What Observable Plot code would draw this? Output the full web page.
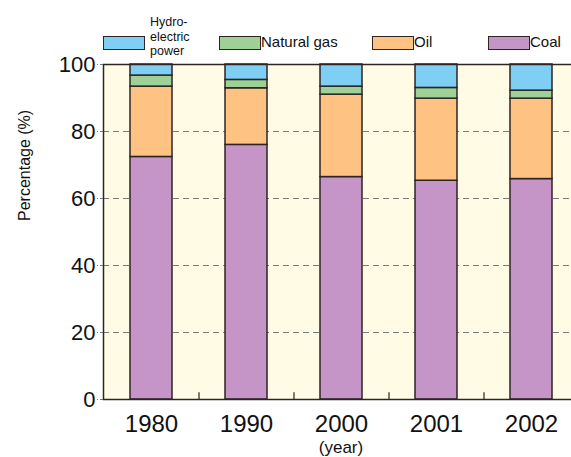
<!DOCTYPE html>
<html>
<head>
<meta charset="utf-8">
<script src="https://cdn.jsdelivr.net/npm/d3@7"></script>
<script src="https://cdn.jsdelivr.net/npm/@observablehq/plot@0.6"></script>
<style>
  html, body { margin: 0; padding: 0; background: #fff; overflow: hidden; }
  #wrap { position: relative; width: 571px; height: 457px; font-family: "Liberation Sans", Arial, Helvetica, sans-serif; }
  #chart { position: absolute; left: 0; top: 0; }
  .sw { position: absolute; top: 36px; width: 40px; height: 12px; border: 1.5px solid #2e2424; }
  .lt { position: absolute; color: #111; white-space: nowrap; }
</style>
</head>
<body>
<div id="wrap">
  <div id="chart"></div>
</div>
<script>
const years = ["1980", "1990", "2000", "2001", "2002"];
const sources = ["Coal", "Oil", "Natural gas", "Hydroelectric power"];
const coal  = [72.4, 76.0, 66.4, 65.3, 65.8];
const oil   = [21.0, 16.9, 24.6, 24.5, 24.0];
const gas   = [3.3, 2.5, 2.4, 3.2, 2.4];
const hydro = [3.3, 4.6, 6.6, 7.0, 7.8];
const colors = ["#c595c8", "#fec383", "#9ed195", "#7fcef3"];
const yTicks = [0, 20, 40, 60, 80, 100];

const series = [coal, oil, gas, hydro];
const rows = [];
years.forEach((yr, i) => {
  sources.forEach((s, j) => rows.push({year: yr, source: s, value: series[j][i]}));
});

const W = 571, H = 457, mL = 103, mR = -7, mT = 64, mB = 58;
const step = (W - mL - mR) / years.length;
const font = "Liberation Sans, Arial, Helvetica, sans-serif";
const dark = "#2e2424";

const chart = Plot.plot({
  width: W, height: H,
  marginLeft: mL, marginRight: mR, marginTop: mT, marginBottom: mB,
  style: {fontFamily: font, color: "#111", background: "transparent", overflow: "visible"},
  x: {type: "band", domain: years, paddingInner: 0.56, paddingOuter: 0.28},
  y: {domain: [0, 100]},
  color: {domain: sources, range: colors},
  marks: [
    Plot.frame({fill: "#fffbe4"}),
    Plot.gridY(yTicks.filter(t => t > 0 && t < 100), {stroke: "#7a7a7a", strokeOpacity: 1, strokeDasharray: "6,4"}),
    Plot.barY(rows, {x: "year", y: "value", fill: "source", order: sources, stroke: dark, strokeWidth: 1.5}),
    Plot.ruleX(years.slice(1), {x: d => d, y1: 0, y2: 2, dx: -step / 2, stroke: dark, strokeWidth: 1.2}),
    Plot.frame({stroke: dark, strokeWidth: 1.5}),
    Plot.axisY(yTicks, {tickSize: 6, tickPadding: 2, fontSize: 22, stroke: "#7a7a7a", strokeDasharray: "3,2", label: null}),
    Plot.axisX({tickSize: 0, tickPadding: 15, fontSize: 24, label: null}),
    Plot.text(["(year)"], {frameAnchor: "bottom", dy: 53, fontSize: 17, fill: "#111"}),
    Plot.text(["Percentage (%)"], {frameAnchor: "left", rotate: -90, dx: -79, dy: -11, fontSize: 16, fill: "#111"})
  ]
});
document.getElementById("chart").appendChild(chart);

// legend
const wrap = document.getElementById("wrap");
const legendItems = [
  {label: "Hydroelectric power", color: colors[3], sw: 103, tx: 150, lines: ["Hydro-", "electric", "power"]},
  {label: "Natural gas", color: colors[2], sw: 219, tx: 261},
  {label: "Oil", color: colors[1], sw: 372, tx: 414},
  {label: "Coal", color: colors[0], sw: 488, tx: 530}
];
legendItems.forEach(it => {
  const s = document.createElement("div");
  s.className = "sw";
  s.style.left = it.sw + "px";
  s.style.background = it.color;
  wrap.appendChild(s);
  const t = document.createElement("div");
  t.className = "lt";
  t.style.left = it.tx + "px";
  if (it.lines) {
    t.style.top = "15px";
    t.style.fontSize = "12.5px";
    t.style.lineHeight = "14.5px";
    t.innerHTML = it.lines.join("<br>");
  } else {
    t.style.top = "33px";
    t.style.fontSize = "15px";
    t.style.lineHeight = "18px";
    t.textContent = it.label;
  }
  wrap.appendChild(t);
});
</script>
</body>
</html>
